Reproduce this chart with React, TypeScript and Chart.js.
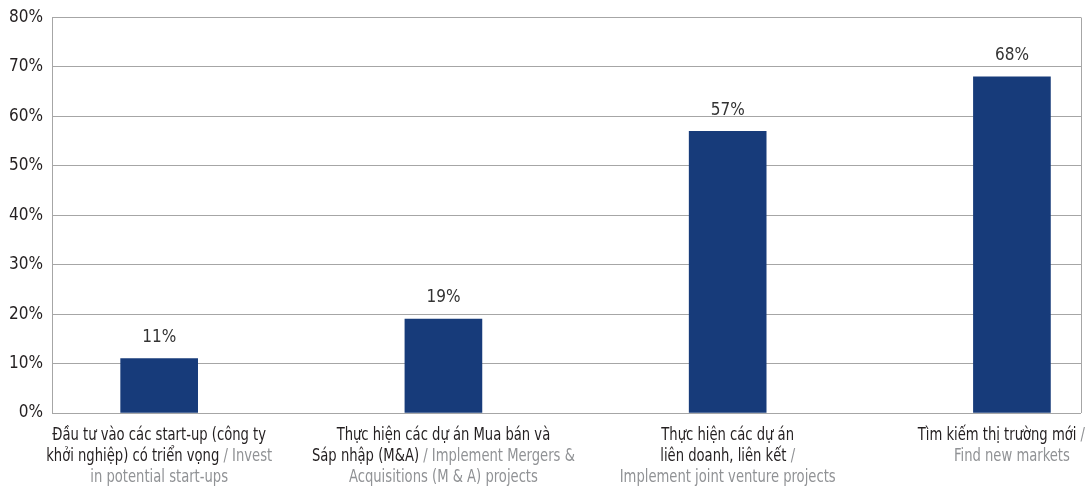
import React, { useEffect, useRef } from "react";
import { Chart, registerables } from "chart.js";

Chart.register(...registerables);

const categories = [
  "Đầu tư vào các start-up (công ty khởi nghiệp) có triển vọng / Invest in potential start-ups",
  "Thực hiện các dự án Mua bán và Sáp nhập (M&A) / Implement Mergers & Acquisitions (M & A) projects",
  "Thực hiện các dự án liên doanh, liên kết / Implement joint venture projects",
  "Tìm kiếm thị trường mới / Find new markets",
];
const values = [11, 19, 57, 68];
const yTicks = [0, 10, 20, 30, 40, 50, 60, 70, 80];

// label lines: each line a list of [text, isEnglish]
const labelLines: [string, boolean][][][] = [
  [
    [["Đầu tư vào các start-up (công ty", false]],
    [["khởi nghiệp) có triển vọng", false], [" / Invest", true]],
    [["in potential start-ups", true]],
  ],
  [
    [["Thực hiện các dự án Mua bán và", false]],
    [["Sáp nhập (M&A)", false], [" / Implement Mergers &", true]],
    [["Acquisitions (M & A) projects", true]],
  ],
  [
    [["Thực hiện các dự án", false]],
    [["liên doanh, liên kết", false], [" /", true]],
    [["Implement joint venture projects", true]],
  ],
  [
    [["Tìm kiếm thị trường mới", false], [" /", true]],
    [["Find new markets", true]],
  ],
];

const FONT = '"Liberation Sans Narrow", "DejaVu Sans Condensed", "Roboto Condensed", sans-serif';
const BAR = "#173b7a";
const GRID = "#a6a6a6";
const SQUEEZE = 0.86;

const customPlugin = {
  id: "customLabels",
  afterDatasetsDraw(chart: any) {
    const ctx = chart.ctx;
    const xs = chart.scales.x;
    const ys = chart.scales.y;
    const area = chart.chartArea;
    ctx.save();
    // right border
    ctx.strokeStyle = GRID;
    ctx.lineWidth = 1;
    ctx.beginPath();
    ctx.moveTo(Math.round(area.right) + 0.5, area.top);
    ctx.lineTo(Math.round(area.right) + 0.5, area.bottom);
    ctx.stroke();
    // value labels
    ctx.font = `17px ${FONT}`;
    ctx.fillStyle = "#333333";
    ctx.textAlign = "center";
    ctx.textBaseline = "middle";
    values.forEach((v, i) => {
      const x = xs.getPixelForValue(i);
      const y = ys.getPixelForValue(v);
      ctx.fillText(`${v}%`, x, y - 21);
    });
    // category labels
    ctx.font = `17px ${FONT}`;
    ctx.textAlign = "left";
    ctx.textBaseline = "middle";
    labelLines.forEach((lines, i) => {
      const cx = xs.getPixelForValue(i);
      lines.forEach((segs, li) => {
        const total = segs.reduce((s, [t]) => s + ctx.measureText(t).width, 0) * SQUEEZE;
        let x = cx - total / 2;
        if (x + total > chart.width - 2) x = chart.width - 2 - total;
        const y = area.bottom + 23 + li * 21;
        segs.forEach(([t, en]) => {
          ctx.save();
          ctx.translate(x, y);
          ctx.scale(SQUEEZE, 1);
          ctx.fillStyle = en ? "#909295" : "#231f20";
          ctx.fillText(t, 0, 0);
          ctx.restore();
          x += ctx.measureText(t).width * SQUEEZE;
        });
      });
    });
    ctx.restore();
  },
};

export default function App() {
  const ref = useRef<HTMLCanvasElement>(null);
  useEffect(() => {
    document.body.style.margin = "0";
    const chart = new Chart(ref.current!, {
      type: "bar",
      data: {
        labels: categories,
        datasets: [
          {
            data: values.map((v, i) => ({ x: i, y: v })),
            backgroundColor: BAR,
            barThickness: 77,
          },
        ],
      },
      options: {
        animation: false,
        responsive: true,
        maintainAspectRatio: false,
        layout: { padding: { top: 4, right: 6, bottom: 74, left: 0 } },
        plugins: { legend: { display: false }, tooltip: { enabled: false } },
        scales: {
          x: {
            type: "linear",
            min: -0.377,
            max: 3.243,
            offset: false,
            grid: { offset: false },
            display: false,
          },
          y: {
            min: 0,
            max: 80,
            afterBuildTicks: (s: any) => {
              s.ticks = yTicks.map((v) => ({ value: v }));
            },
            afterFit: (s: any) => {
              s.width = 52;
            },
            border: { display: true, color: GRID },
            grid: { color: GRID, drawTicks: false, lineWidth: 1 },
            ticks: {
              padding: 9,
              color: "#231f20",
              font: { family: FONT, size: 17, lineHeight: 1 },
              callback: (v: any) => `${v}%`,
            },
          },
        },
      },
      plugins: [customPlugin],
    });
    return () => chart.destroy();
  }, []);
  return (
    <div style={{ width: 1087, height: 487, position: "relative" }}>
      <canvas ref={ref} />
    </div>
  );
}
